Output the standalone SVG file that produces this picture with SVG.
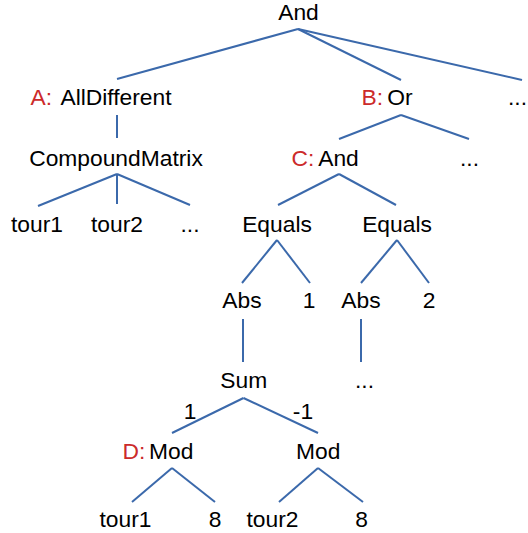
<svg xmlns="http://www.w3.org/2000/svg" width="528" height="533" viewBox="0 0 528 533">
<style>
text{font-family:"Liberation Sans",Arial,sans-serif;font-size:22.8px;fill:#000}
.c{text-anchor:middle}
.r{fill:#cc2a2a}
#edges line{stroke:#3b69ab;stroke-width:2;stroke-linecap:butt}
</style>
<rect width="528" height="533" fill="#fff"/>
<g id="edges">
<line x1="298" y1="29" x2="117" y2="79"/>
<line x1="298" y1="29" x2="401" y2="80"/>
<line x1="298" y1="29" x2="522" y2="80"/>
<line x1="117" y1="115" x2="117" y2="138"/>
<line x1="401" y1="115" x2="339" y2="139"/>
<line x1="401" y1="115" x2="469" y2="139"/>
<line x1="117" y1="174" x2="38" y2="206"/>
<line x1="117" y1="174" x2="117" y2="204"/>
<line x1="117" y1="174" x2="190" y2="205"/>
<line x1="339" y1="174" x2="278" y2="205"/>
<line x1="339" y1="174" x2="396" y2="205"/>
<line x1="277" y1="240" x2="242" y2="283"/>
<line x1="277" y1="240" x2="310" y2="283"/>
<line x1="397" y1="240" x2="361" y2="283"/>
<line x1="397" y1="240" x2="429" y2="283"/>
<line x1="243" y1="319" x2="243" y2="362"/>
<line x1="361" y1="319" x2="361" y2="362"/>
<line x1="243.5" y1="398" x2="172" y2="433"/>
<line x1="243.5" y1="398" x2="318" y2="433"/>
<line x1="172" y1="468" x2="132" y2="502"/>
<line x1="172" y1="468" x2="215" y2="502"/>
<line x1="318" y1="468" x2="279" y2="502"/>
<line x1="318" y1="468" x2="363" y2="502"/>
<text class="c" x="190" y="419">1</text>
<text class="c" x="303" y="419">-1</text>
</g>
<g id="n_root"><text class="c" x="298.5" y="20">And</text></g>
<g id="n_a"><text class="r" x="30.5" y="105">A:</text><text class="c" x="116" y="105">AllDifferent</text></g>
<g id="n_b"><text class="r" x="361.5" y="105">B:</text><text class="c" x="400" y="105">Or</text></g>
<g id="n_more1"><text x="508" y="105">...</text></g>
<g id="n_cm"><text class="c" x="116" y="166">CompoundMatrix</text></g>
<g id="n_c"><text class="r" x="291.5" y="166">C:</text><text class="c" x="338.5" y="166">And</text></g>
<g id="n_more2"><text class="c" x="469.5" y="166">...</text></g>
<g id="n_tour1a"><text class="c" x="37" y="232">tour1</text></g>
<g id="n_tour2a"><text class="c" x="117" y="232">tour2</text></g>
<g id="n_more3"><text class="c" x="190" y="232">...</text></g>
<g id="n_eq1"><text class="c" x="277" y="232">Equals</text></g>
<g id="n_eq2"><text class="c" x="397" y="232">Equals</text></g>
<g id="n_abs1"><text class="c" x="242" y="308">Abs</text></g>
<g id="n_one"><text class="c" x="309" y="308">1</text></g>
<g id="n_abs2"><text class="c" x="361" y="308">Abs</text></g>
<g id="n_two"><text class="c" x="429" y="308">2</text></g>
<g id="n_sum"><text class="c" x="243.7" y="388">Sum</text></g>
<g id="n_more4"><text class="c" x="364.5" y="388">...</text></g>
<g id="n_d"><text class="r" x="122.5" y="459">D:</text><text class="c" x="171.3" y="459">Mod</text></g>
<g id="n_mod2"><text class="c" x="318.3" y="459">Mod</text></g>
<g id="n_tour1b"><text class="c" x="125.5" y="527">tour1</text></g>
<g id="n_eight1"><text class="c" x="215" y="527">8</text></g>
<g id="n_tour2b"><text class="c" x="272.5" y="527">tour2</text></g>
<g id="n_eight2"><text class="c" x="361.7" y="527">8</text></g>
</svg>
